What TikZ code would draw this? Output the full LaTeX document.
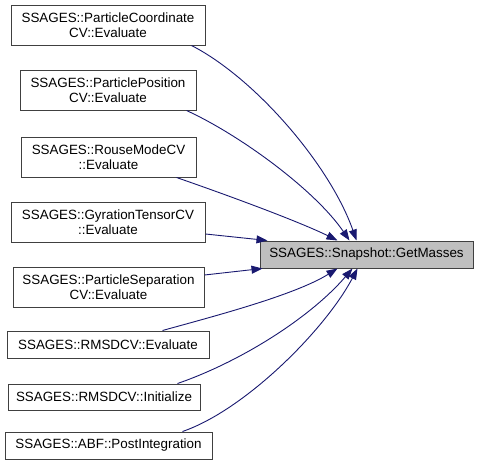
\documentclass[tikz,border=0pt]{standalone}
\usepackage{fontspec}
\setmainfont{Liberation Sans}
\usetikzlibrary{arrows.meta,calc}
\definecolor{edgecol}{HTML}{191970}
\definecolor{boxline}{HTML}{404040}
\definecolor{hilite}{HTML}{BFBFBF}
\tikzset{
  fnbox/.style={draw=boxline, line width=1pt, fill=white, align=center, inner sep=0pt,
    font=\fontsize{13.4}{14.6}\selectfont},
  callarrow/.style={draw=edgecol, line width=0.9pt, -{Triangle[length=11pt,width=8pt]}, color=edgecol}
}
\begin{document}
\begin{tikzpicture}[x=1pt,y=-1pt]
\useasboundingbox (0,0) rectangle (480,466);
\node[fnbox, minimum width=194pt, minimum height=40pt] (n1) at (108,25) {SSAGES::ParticleCoordinate\\CV::Evaluate};
\node[fnbox, minimum width=176pt, minimum height=40pt] (n2) at (108,90) {SSAGES::ParticlePosition\\CV::Evaluate};
\node[fnbox, minimum width=175pt, minimum height=40pt] (n3) at (108.5,157) {SSAGES::RouseModeCV\\::Evaluate};
\node[fnbox, minimum width=194pt, minimum height=40pt] (n4) at (108,222) {SSAGES::GyrationTensorCV\\::Evaluate};
\node[fnbox, minimum width=191pt, minimum height=40pt] (n5) at (108.5,287) {SSAGES::ParticleSeparation\\CV::Evaluate};
\node[fnbox, minimum width=202pt, minimum height=27pt] (n6) at (108,344.5) {SSAGES::RMSDCV::Evaluate};
\node[fnbox, minimum width=192pt, minimum height=26pt] (n7) at (104,397) {SSAGES::RMSDCV::Initialize};
\node[fnbox, minimum width=207pt, minimum height=27pt] (n8) at (108.5,445.5) {SSAGES::ABF::PostIntegration};
\node[fnbox, fill=hilite, minimum width=213pt, minimum height=27pt] (t) at (366.5,254.5) {SSAGES::Snapshot::GetMasses};

\draw[callarrow] ($(n1.south west)+(181,0)$) .. controls (255,78) and (330,165) .. ($(t.north west)+(97,0)$);
\draw[callarrow] ($(n2.south west)+(167,0)$) .. controls (240,135) and (315,190) .. ($(t.north west)+(90,0)$);
\draw[callarrow] ($(n3.south west)+(156,0)$) .. controls (230,196) and (300,222) .. ($(t.north west)+(78,0)$);
\draw[callarrow] ($(n4.east)+(0,12)$) -- ($(t.north west)+(8,0)$);
\draw[callarrow] ($(n5.east)+(0,-12)$) -- ($(t.south west)+(3,0)$);
\draw[callarrow] ($(n6.north west)+(156,0)$) .. controls (215,316) and (295,295) .. ($(t.south west)+(78,0)$);
\draw[callarrow] ($(n7.north west)+(170,0)$) .. controls (240,362) and (310,318) .. ($(t.south west)+(93,0)$);
\draw[callarrow] ($(n8.north west)+(178,0)$) .. controls (245,410) and (325,330) .. ($(t.south west)+(98,0)$);
\end{tikzpicture}
\end{document}
